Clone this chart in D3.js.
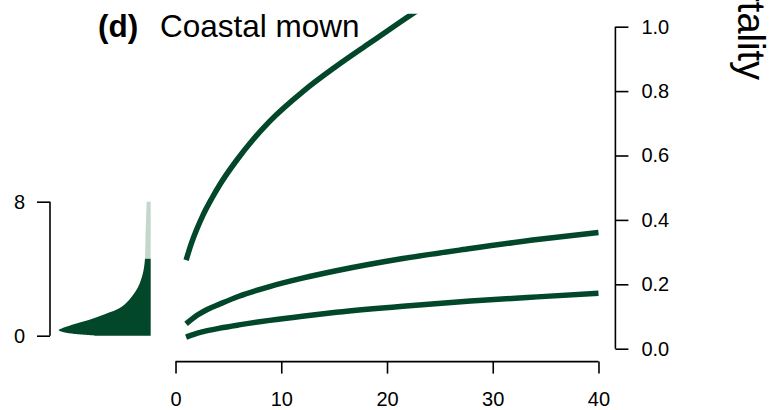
<!DOCTYPE html>
<html>
<head>
<meta charset="utf-8">
<script src="https://cdn.jsdelivr.net/npm/d3@7"></script>
<style>
  body { margin: 0; background: #fff; }
  svg { display: block; font-family: "Liberation Sans", Arial, sans-serif; }
  .tick text { font-size: 20px; font-family: "Liberation Sans", Arial, sans-serif; fill: #000; }
</style>
</head>
<body>
<svg id="chart" width="779" height="410"></svg>
<script>
// curves: mortality vs x
const xs1 = [1, 1.5, 2, 2.6, 3.4, 4.2, 5.8, 7.3, 8.9, 12.1, 15.2, 18.4, 21.5, 24.6];
const mort1 = [0.275, 0.327, 0.37, 0.415, 0.465, 0.51, 0.586, 0.648, 0.706, 0.80, 0.877, 0.95, 1.02, 1.088];
const xs2 = [1, 2, 3, 4.2, 6, 8.9, 12, 15.2, 21.5, 27.9, 34.2, 40];
const mort2 = [0.077, 0.103, 0.122, 0.139, 0.163, 0.193, 0.219, 0.242, 0.280, 0.311, 0.339, 0.361];
const xs3 = [1, 2, 3, 4.2, 6, 8.9, 12, 15.2, 21.5, 27.9, 34.2, 40];
const mort3 = [0.036, 0.048, 0.056, 0.064, 0.074, 0.088, 0.101, 0.113, 0.132, 0.148, 0.161, 0.172];

// side density (0-8 axis)
const densV = [0, 0.1, 0.2, 0.32, 0.5, 0.7, 0.94, 1.28, 1.73, 2.33, 2.93, 3.73, 4.3, 4.6];
const densW = [0.55, 0.76, 0.87, 0.92, 0.86, 0.76, 0.62, 0.46, 0.29, 0.19, 0.124, 0.078, 0.062, 0.057];
const densVLight = [4.6, 5.5, 6.4, 7.2, 8.0];
const densWLight = [0.057, 0.053, 0.050, 0.045, 0.040];

const xTicks = [0, 10, 20, 30, 40];
const yTicks = [0, 0.2, 0.4, 0.6, 0.8, 1.0];
const sideTicks = [0, 8];

const dark = "#03472b";
const light = "#c4d7cd";

const svg = d3.select("#chart");

// main panel, R style 4% padding
const x = d3.scaleLinear().domain([-1.6, 41.6]).range([158.6, 615.4]);
const y = d3.scaleLinear().domain([-0.04, 1.04]).range([361.6, 13.8]);

svg.append("defs").append("clipPath").attr("id", "plotclip")
  .append("rect")
  .attr("x", x(-1.6)).attr("y", y(1.04))
  .attr("width", x(41.6) - x(-1.6)).attr("height", y(-0.04) - y(1.04));

const line = d3.line()
  .x(d => x(d[0]))
  .y(d => y(d[1]))
  .curve(d3.curveMonotoneX);

const curves = [
  d3.zip(xs1, mort1),
  d3.zip(xs2, mort2),
  d3.zip(xs3, mort3)
];

svg.append("g").attr("clip-path", "url(#plotclip)")
  .selectAll("path")
  .data(curves)
  .join("path")
  .attr("d", line)
  .attr("fill", "none")
  .attr("stroke", dark)
  .attr("stroke-width", 5.5);

// x axis (bottom)
const xAxis = svg.append("g")
  .attr("transform", `translate(0,${y(-0.04)})`)
  .call(d3.axisBottom(x).tickValues(xTicks).tickSize(12).tickSizeOuter(0).tickPadding(18));

// right axis
const yAxis = svg.append("g")
  .attr("transform", `translate(${x(41.6)},0)`)
  .call(d3.axisRight(y).tickValues(yTicks).tickFormat(d3.format(".1f")).tickSize(13).tickSizeOuter(0).tickPadding(13));

[xAxis, yAxis].forEach(g => {
  g.select(".domain").remove();
  g.selectAll(".tick line").attr("stroke", "#000").attr("stroke-width", 1.6);
});
xAxis.append("line")
  .attr("x1", x(0)).attr("x2", x(40))
  .attr("stroke", "#000").attr("stroke-width", 1.6);
yAxis.append("line")
  .attr("y1", y(0)).attr("y2", y(1))
  .attr("stroke", "#000").attr("stroke-width", 1.6);

// side density panel
const sv = d3.scaleLinear().domain([0, 8]).range([335.7, 201.7]);
const sw = d3.scaleLinear().domain([0, 1]).range([150.7, 50.7]);

const area = d3.area()
  .y(d => sv(d[0]))
  .x0(sw(0))
  .x1(d => sw(d[1]))
  .curve(d3.curveCatmullRom);

svg.append("path")
  .datum(d3.zip(densVLight, densWLight))
  .attr("d", area)
  .attr("fill", light);

svg.append("path")
  .datum(d3.zip(densV, densW))
  .attr("d", area)
  .attr("fill", dark);

const sideAxis = svg.append("g")
  .attr("transform", "translate(50,0)")
  .call(d3.axisLeft(sv).tickValues(sideTicks).tickSize(13).tickSizeOuter(0).tickPadding(12));
sideAxis.select(".domain").remove();
sideAxis.selectAll(".tick line").attr("stroke", "#000").attr("stroke-width", 1.6);
sideAxis.append("line")
  .attr("y1", sv(0)).attr("y2", sv(8))
  .attr("stroke", "#000").attr("stroke-width", 1.6);

// title
svg.append("text")
  .attr("x", 98).attr("y", 36.7)
  .attr("font-size", 31.5).attr("font-weight", "bold")
  .text("(d)");
svg.append("text")
  .attr("x", 160).attr("y", 36.7)
  .attr("font-size", 31.5)
  .text("Coastal mown");

// y label, mostly off the top edge
svg.append("text")
  .attr("transform", "translate(738,80) rotate(90)")
  .attr("text-anchor", "end")
  .attr("font-size", 38)
  .text("Mortality");
</script>
</body>
</html>
